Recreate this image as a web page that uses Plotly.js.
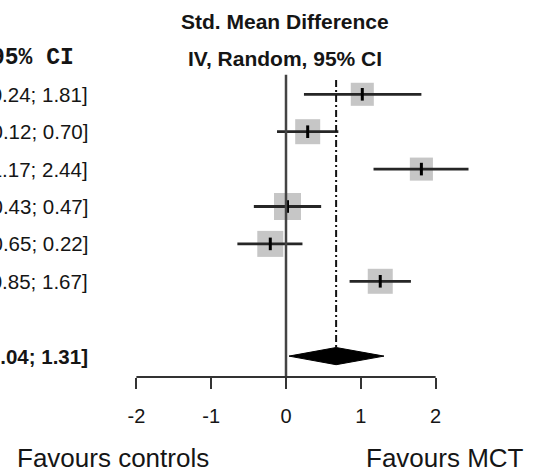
<!DOCTYPE html>
<html>
<head>
<meta charset="utf-8">
<script src="https://cdn.plot.ly/plotly-3.0.1.min.js"></script>
<style>
html,body{margin:0;padding:0;background:#fff;}
#chart{width:538px;height:473px;}
</style>
</head>
<body>
<div id="chart"></div>
<script>
// ---- data ----
const rows = [1, 2, 3, 4, 5, 6];
const estimates = [1.02, 0.29, 1.81, 0.02, -0.21, 1.26];
const lowerCI = [0.24, -0.12, 1.17, -0.43, -0.65, 0.85];
const upperCI = [1.81, 0.70, 2.44, 0.47, 0.22, 1.67];
const weights = [14.3, 16.8, 14.3, 19.6, 18.2, 16.8];
const overallRow = 8;
const overallEst = 0.67;
const overallLower = 0.04;
const overallUpper = 1.31;
const tickValues = [-2, -1, 0, 1, 2];
const tickLabels = ['-2', '-1', '0', '1', '2'];
const titleLine1 = 'Std. Mean Difference';
const titleLine2 = 'IV, Random, 95% CI';
const ciHeader = '95% CI';
const leftLabel = 'Favours controls';
const rightLabel = 'Favours MCT';

// ---- layout helpers ----
const W = 538, H = 473;
const plotBottomPx = 377;
const FONT = '"Liberation Sans", Arial, sans-serif';
const pxPaperX = px => px / W;
const pxPaperY = py => (plotBottomPx - py) / plotBottomPx;
const fmt = v => v.toFixed(2);

const traces = [];

// squares (weights)
traces.push({
  type: 'scatter', mode: 'markers',
  x: estimates, y: rows,
  marker: {symbol: 'square', size: weights.map(w => 6.1 * Math.sqrt(w)), color: '#aeaeae', line: {width: 0}},
  hoverinfo: 'skip', showlegend: false
});
// CI lines and estimate ticks
traces.push({
  type: 'scatter', mode: 'markers',
  x: estimates, y: rows,
  marker: {symbol: 'line-ns', size: 9, line: {width: 3, color: '#000'}},
  error_x: {
    type: 'data', symmetric: false,
    array: upperCI.map((u, i) => u - estimates[i]),
    arrayminus: lowerCI.map((l, i) => estimates[i] - l),
    thickness: 2.8, width: 0, color: '#262626'
  },
  hoverinfo: 'skip', showlegend: false
});
// overall diamond
const dh = 0.23;
traces.push({
  type: 'scatter', mode: 'lines',
  x: [overallLower, overallEst, overallUpper, overallEst, overallLower],
  y: [overallRow, overallRow - dh, overallRow, overallRow + dh, overallRow],
  fill: 'toself', fillcolor: '#000', line: {width: 1, color: '#000'},
  hoverinfo: 'skip', showlegend: false
});

const shapes = [
  // zero line
  {type: 'line', xref: 'x', yref: 'y', x0: 0, x1: 0, y0: 0.48, y1: 8.6,
   line: {color: '#444', width: 2.5}},
  // summary dash-dot line
  {type: 'line', xref: 'x', yref: 'y', x0: overallEst, x1: overallEst, y0: 0.62, y1: overallRow - dh,
   line: {color: '#111', width: 2, dash: '7px,3px,2px,3px'}},
  // axis line
  {type: 'line', xref: 'x', yref: 'paper', x0: tickValues[0], x1: tickValues[tickValues.length - 1], y0: 0, y1: 0,
   line: {color: '#333', width: 2}}
];

const annotations = [];
const textColor = '#151515';
annotations.push({xref: 'paper', yref: 'paper', x: pxPaperX(285), y: pxPaperY(22), text: '<b>' + titleLine1 + '</b>',
  showarrow: false, xanchor: 'center', yanchor: 'middle', font: {family: FONT, size: 21, color: textColor}});
annotations.push({xref: 'paper', yref: 'paper', x: pxPaperX(285), y: pxPaperY(58), text: '<b>' + titleLine2 + '</b>',
  showarrow: false, xanchor: 'center', yanchor: 'middle', font: {family: FONT, size: 21, color: textColor}});
annotations.push({xref: 'paper', yref: 'paper', x: pxPaperX(76), y: pxPaperY(58), text: '<b>' + ciHeader + '</b>',
  showarrow: false, xanchor: 'right', yanchor: 'middle', font: {family: '"Liberation Mono", "Courier New", monospace', size: 23, color: textColor}});
rows.forEach((r, i) => {
  annotations.push({xref: 'paper', yref: 'y', x: pxPaperX(90), y: r,
    text: '[' + fmt(lowerCI[i]) + '; ' + fmt(upperCI[i]) + ']',
    showarrow: false, xanchor: 'right', yanchor: 'middle', font: {family: FONT, size: 20.5, color: textColor}});
});
annotations.push({xref: 'paper', yref: 'y', x: pxPaperX(90), y: overallRow,
  text: '<b>[' + fmt(overallLower) + '; ' + fmt(overallUpper) + ']</b>',
  showarrow: false, xanchor: 'right', yanchor: 'middle', font: {family: FONT, size: 20.5, color: textColor}});
annotations.push({xref: 'paper', yref: 'paper', x: pxPaperX(113), y: pxPaperY(458), text: leftLabel,
  showarrow: false, xanchor: 'center', yanchor: 'middle', font: {family: FONT, size: 26, color: textColor}});
annotations.push({xref: 'paper', yref: 'paper', x: pxPaperX(445), y: pxPaperY(458), text: rightLabel,
  showarrow: false, xanchor: 'center', yanchor: 'middle', font: {family: FONT, size: 26, color: textColor}});

const unitPx = 74.8, zeroPx = 286;
const rowPx = 37.4, row1Px = 94.3;

const layout = {
  width: W, height: H,
  margin: {l: 0, r: 0, t: 0, b: H - plotBottomPx, pad: 0},
  paper_bgcolor: '#fff', plot_bgcolor: '#fff',
  showlegend: false,
  xaxis: {
    range: [-zeroPx / unitPx, (W - zeroPx) / unitPx],
    tickvals: tickValues, ticktext: tickLabels,
    ticks: 'outside', ticklen: 11, tickwidth: 2, tickcolor: '#333',
    ticklabelstandoff: 10,
    showgrid: false, zeroline: false, showline: false,
    tickfont: {family: FONT, size: 20, color: textColor},
    fixedrange: true
  },
  yaxis: {
    range: [1 + (plotBottomPx - row1Px) / rowPx, 1 - row1Px / rowPx],
    showgrid: false, zeroline: false, showline: false, showticklabels: false, ticks: '',
    fixedrange: true
  },
  shapes: shapes,
  annotations: annotations
};

Plotly.newPlot('chart', traces, layout, {displayModeBar: false, staticPlot: true});
</script>
</body>
</html>
